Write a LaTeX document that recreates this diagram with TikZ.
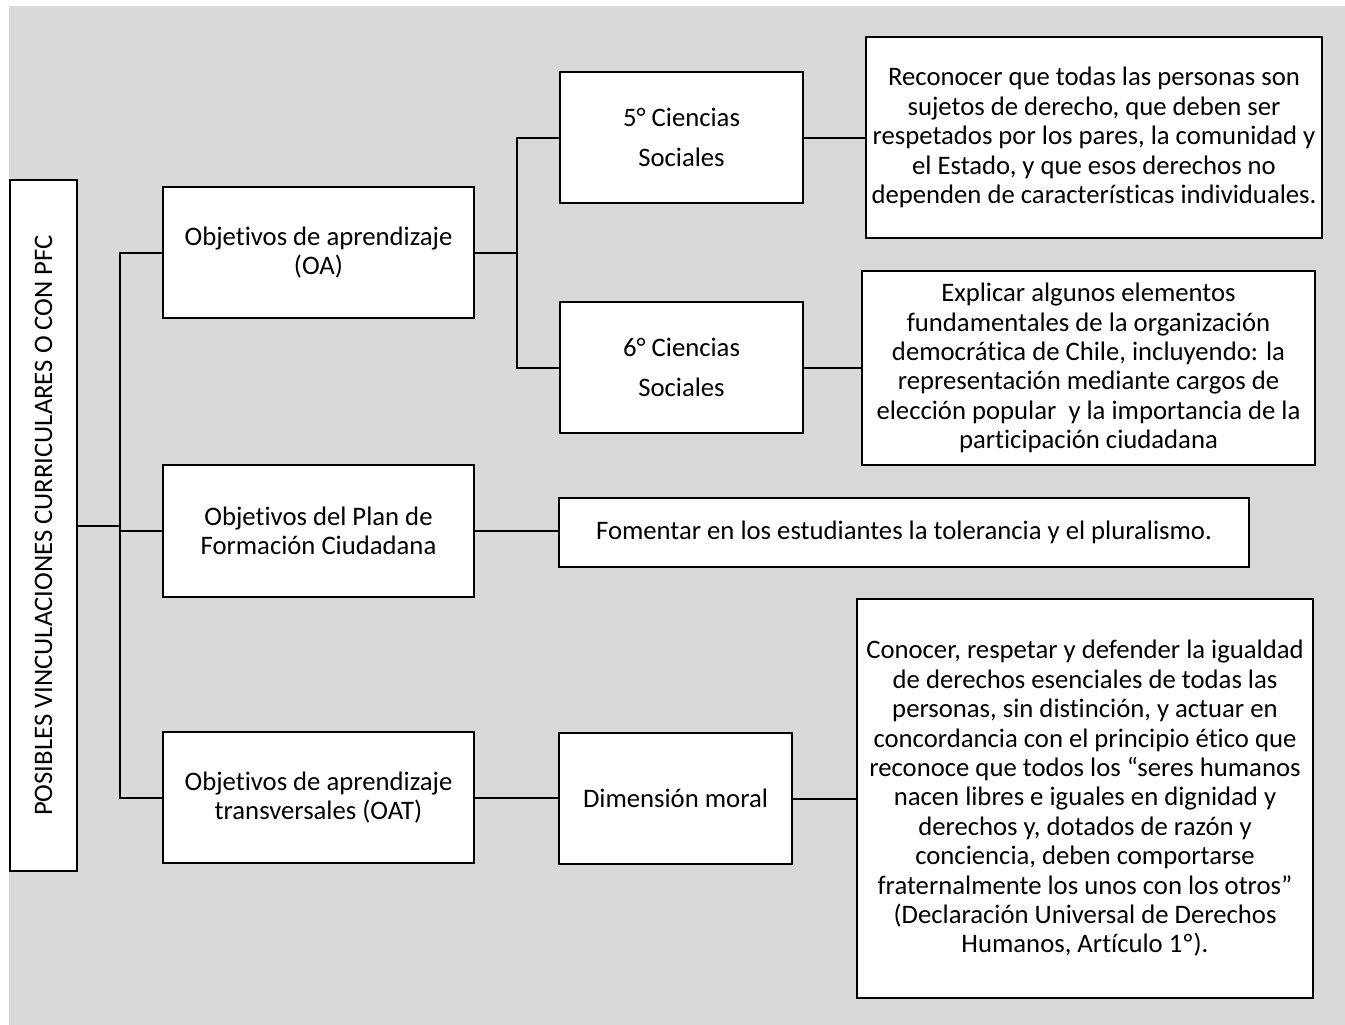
\documentclass[tikz,border=0pt]{standalone}
\usepackage{fontspec}
\setmainfont{Carlito}[Ligatures=NoCommon]
\definecolor{bggray}{HTML}{D9D9D9}
\tikzset{
  box/.style={draw=black, fill=white, line width=2.2pt, inner sep=0pt, align=center,
    font=\fontsize{26.7}{29.4}\selectfont},
  wide/.style={box, font=\fontsize{26.7}{40}\selectfont},
  link/.style={draw=black, line width=2pt},
}
\begin{document}
\begin{tikzpicture}[x=1pt,y=-1pt]
\useasboundingbox (0,0) rectangle (1345,1025);
\fill[bggray] (9,6) rectangle (1345,1025);

% left title box
\node[box, minimum width=67, minimum height=691] (left) at (43.5,525.5) {};
\node[rotate=90, font=\fontsize{26.7}{29.4}\selectfont] (lefttxt) at (left.center) {POSIBLES VINCULACIONES CURRICULARES O CON PFC};

% second column
\node[box, minimum width=311, minimum height=131] (OA) at (318.5,252.5) {Objetivos de aprendizaje\\(OA)};
\node[box, minimum width=311, minimum height=132] (PFC) at (318.5,531) {Objetivos del Plan de\\Formación Ciudadana};
\node[box, minimum width=311, minimum height=131] (OAT) at (318.5,797.5) {Objetivos de aprendizaje\\transversales (OAT)};

% third column
\node[wide, minimum width=243, minimum height=131] (C5) at (681.5,137.5) {5° Ciencias\\Sociales};
\node[wide, minimum width=243, minimum height=131] (C6) at (681.5,367.5) {6° Ciencias\\Sociales};
\node[box, minimum width=690, minimum height=69] (FOM) at (904,532.5) {Fomentar en los estudiantes la tolerancia y el pluralismo.};
\node[box, minimum width=233, minimum height=131] (DM) at (675.5,798.5) {Dimensión moral};

% right column
\node[box, minimum width=456, minimum height=201] (A) at (1094,137.5) {Reconocer que todas las personas son\\sujetos de derecho, que deben ser\\respetados por los pares, la comunidad y\\el Estado, y que esos derechos no\\dependen de características individuales.};
\node[box, minimum width=453, minimum height=194] (B) at (1088.5,368) {Explicar algunos elementos\\fundamentales de la organización\\democrática de Chile, incluyendo: la\\representación mediante cargos de\\elección popular~ y la importancia de la\\participación ciudadana};
\node[box, minimum width=456, minimum height=399] (C) at (1085,798.5) {Conocer, respetar y defender la igualdad\\de derechos esenciales de todas las\\personas, sin distinción, y actuar en\\concordancia con el principio ético que\\reconoce que todos los “seres humanos\\nacen libres e iguales en dignidad y\\derechos y, dotados de razón y\\conciencia, deben comportarse\\fraternalmente los unos con los otros”\\(Declaración Universal de Derechos\\Humanos, Artículo 1º).};

% junction coordinates
\coordinate (tr) at (120,0);
\coordinate (br) at (517,0);

% connectors
\draw[link] (left.east) -- (left.east -| tr);
\draw[link] (OA.west) -| (tr |- OAT.west) -- (OAT.west);
\draw[link] (tr |- PFC.west) -- (PFC.west);

\draw[link] (OA.east) -- (OA.east -| br);
\draw[link] (C5.west) -| (br |- C6.west) -- (C6.west);

\draw[link] (C5.east) -- (C5.east -| A.west);
\draw[link] (C6.east) -- (C6.east -| B.west);
\draw[link] (PFC.east) -- (PFC.east -| FOM.west);
\draw[link] (OAT.east) -- (OAT.east -| DM.west);
\draw[link] (DM.east) -- (DM.east -| C.west);
\end{tikzpicture}
\end{document}
